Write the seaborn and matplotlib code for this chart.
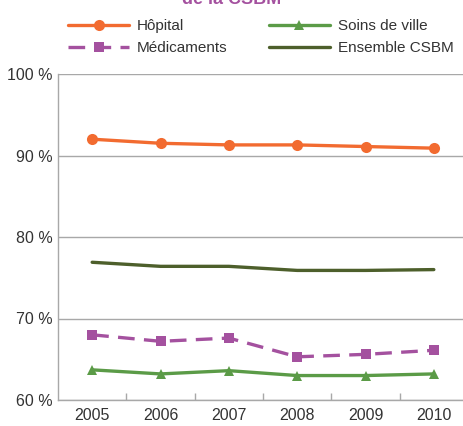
import matplotlib
matplotlib.use("Agg")
import matplotlib.pyplot as plt
import seaborn as sns
import pandas as pd

annees = [2005, 2006, 2007, 2008, 2009, 2010]
hopital = [92.0, 91.5, 91.3, 91.3, 91.1, 90.9]
soins_ville = [63.7, 63.2, 63.6, 63.0, 63.0, 63.2]
medicaments = [68.0, 67.2, 67.6, 65.3, 65.6, 66.1]
ensemble = [76.9, 76.4, 76.4, 75.9, 75.9, 76.0]
y_ticks = [60, 70, 80, 90, 100]

sns.set_theme(style="white")
plt.rcParams['font.family'] = ['Liberation Sans', 'DejaVu Sans']

fig = plt.figure(figsize=(4.64, 4.26), dpi=100)
ax = fig.add_axes([58 / 464, 1 - 400 / 426, 410 / 464, 326 / 426])

series = [
    ("Hôpital", hopital, "#f26b30", "o", 8, "-"),
    ("Médicaments", medicaments, "#a4519f", "s", 7, (0, (5, 2.8))),
    ("Soins de ville", soins_ville, "#5b9b47", "^", 7, "-"),
    ("Ensemble CSBM", ensemble, "#4d5f2b", None, 0, "-"),
]

handles = []
for nom, valeurs, couleur, marqueur, taille, style in series:
    df = pd.DataFrame({"annee": annees, "part": valeurs})
    sns.lineplot(data=df, x="annee", y="part", ax=ax, color=couleur,
                 marker=marqueur, markersize=taille, markeredgewidth=0,
                 linewidth=2.4, linestyle=style, label=nom)
    handles.append(ax.get_lines()[-1])

ax.get_legend().remove()

ax.set_xlim(2004.5, 2010.5)
ax.set_ylim(60, 100)
ax.set_yticks(y_ticks)
ax.set_yticklabels([f"{v} %" for v in y_ticks])
ax.set_xticks(annees)
ax.set_xticklabels([str(a) for a in annees])
ax.set_xticks([a + 0.5 for a in annees[:-1]], minor=True)
ax.set_xlabel("")
ax.set_ylabel("")

ax.yaxis.grid(True, color="#a8a8a8", linewidth=1)
ax.set_axisbelow(True)
for cote in ["top", "right"]:
    ax.spines[cote].set_visible(False)
for cote in ["left", "bottom"]:
    ax.spines[cote].set_color("#a8a8a8")
    ax.spines[cote].set_linewidth(1)

ax.tick_params(axis="x", which="major", length=0, pad=6, labelsize=11.5, labelcolor="#333333")
ax.tick_params(axis="x", which="minor", direction="in", length=5, color="#a8a8a8", bottom=True)
ax.tick_params(axis="y", length=0, pad=4, labelsize=11.5, labelcolor="#333333")

fig.legend(handles=handles, labels=[s[0] for s in series], ncol=2,
           loc="upper center", bbox_to_anchor=(0.562, 0.988), frameon=False,
           fontsize=11, labelcolor="#333333", handlelength=4.0,
           columnspacing=2.7, handletextpad=0.5, labelspacing=0.55)

fig.text(0.5, 1.0, "de la CSBM", ha="center", va="center", fontsize=13,
         fontweight="bold", color="#a4519f")

fig.savefig("out.png", dpi=100)
